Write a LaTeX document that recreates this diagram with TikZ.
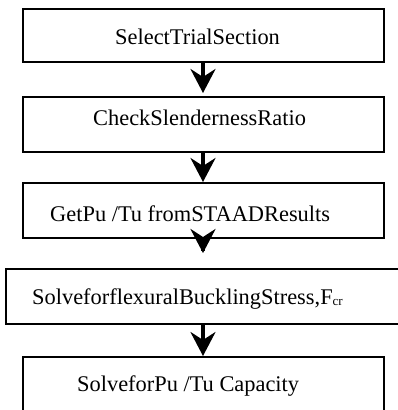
\documentclass[tikz,border=0pt]{standalone}
\usepackage{fontspec}
\setmainfont{Liberation Serif}
\usetikzlibrary{arrows.meta}
\tikzset{
  stepbox/.style={draw=black, line width=2pt, rectangle, inner sep=0pt, anchor=north west},
  steptext/.style={anchor=base west, inner sep=0pt, font=\fontsize{22.4}{26}\selectfont},
  flowarrow/.style={line width=3.4pt, -{Stealth[length=24pt, width=25pt, inset=8pt]}}
}
\begin{document}
\begin{tikzpicture}[x=1pt, y=-1pt]
\useasboundingbox (0,0) rectangle (397,410);
% boxes
\node[stepbox, minimum width=361pt, minimum height=53pt] (b1) at (22,8) {};
\node[stepbox, minimum width=361pt, minimum height=55pt] (b2) at (22,96) {};
\node[stepbox, minimum width=361pt, minimum height=55pt] (b3) at (22,182) {};
\node[stepbox, minimum width=400pt, minimum height=55pt] (b4) at (5,268) {};
\node[stepbox, minimum width=361pt, minimum height=60pt] (b5) at (22,356) {};
% texts
\node[steptext] (t1) at (115,44) {SelectTrialSection};
\node[steptext] (t2) at (93,125) {CheckSlendernessRatio};
\node[steptext] (t3) at (50,221) {GetPu /Tu fromSTAADResults};
\node[steptext] (t4) at (32,304) {SolveforflexuralBucklingStress,F{\fontsize{13}{13}\selectfont\raisebox{-1.5pt}{cr}}};
\node[steptext] (t5) at (77,391) {SolveforPu /Tu Capacity};
% arrows (centre line x = 203)
\coordinate (s3) at ([yshift=-12pt]b3.south -| 203,0);
\draw[flowarrow, shorten >=3pt] (b1.south -| 203,0) -- (b2.north -| 203,0);
\draw[flowarrow] (b2.south -| 203,0) -- (b3.north -| 203,0);
\draw[flowarrow, shorten >=15pt] (s3) -- (b4.north -| 203,0);
\draw[flowarrow] (b4.south -| 203,0) -- (b5.north -| 203,0);
\end{tikzpicture}
\end{document}
